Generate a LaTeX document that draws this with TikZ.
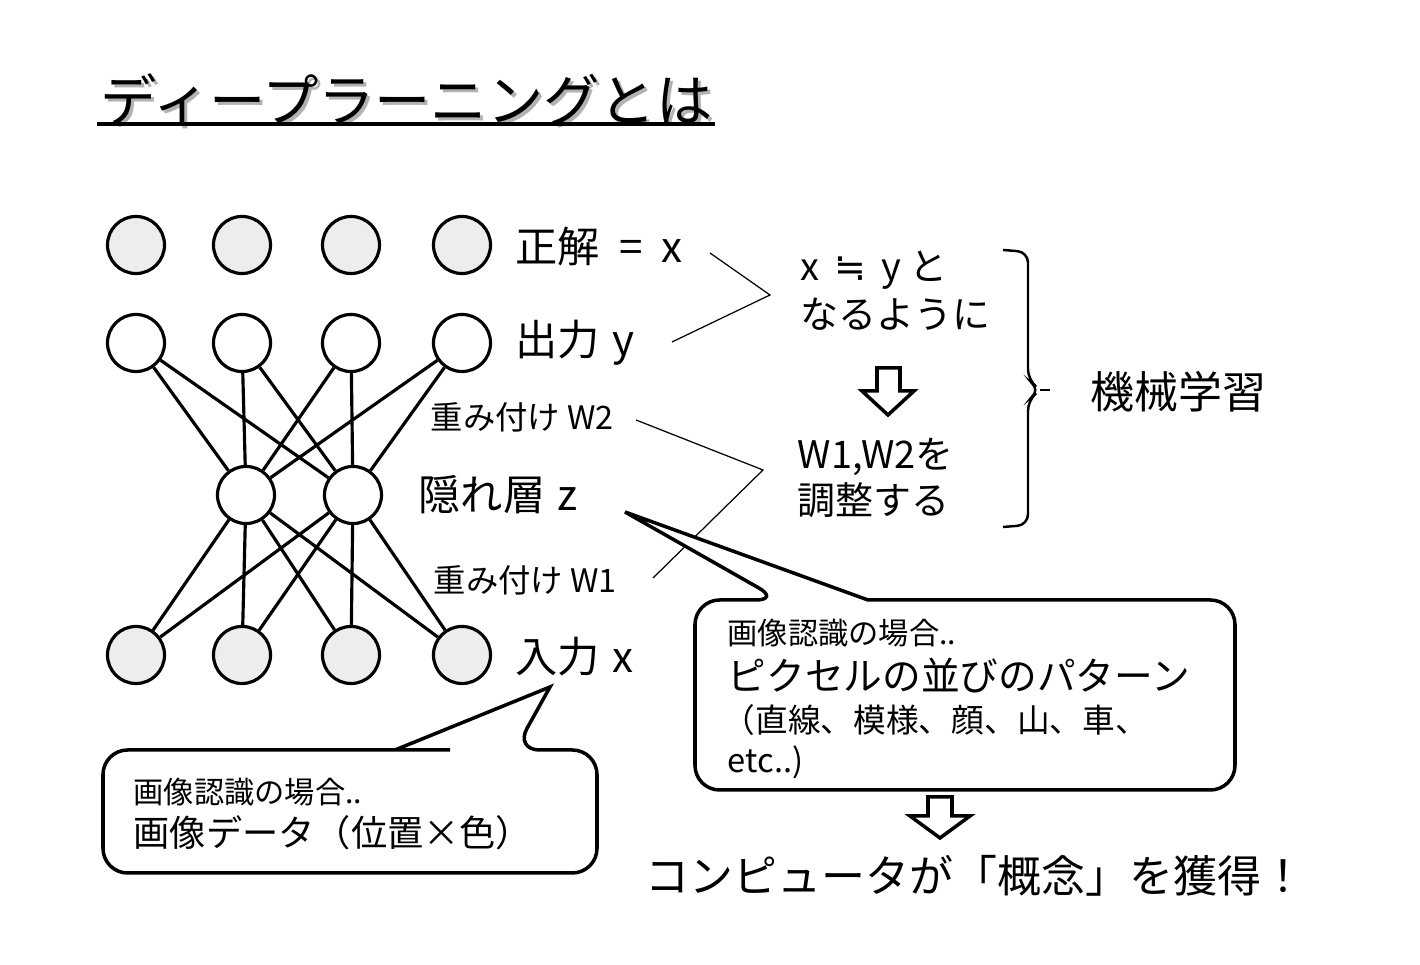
\documentclass[tikz,border=0pt]{standalone}
\usepackage{fontspec}
\setmainfont{Noto Sans CJK JP}
\newfontfamily\symfont{DejaVu Sans}

\begin{document}
\begin{tikzpicture}[x=0.01cm,y=-0.01cm,
	unit/.style={circle, draw, line width=0.9pt, minimum size=0.57cm, inner sep=0pt, fill=white},
	given/.style={unit, fill=black!7},
	link/.style={line width=0.9pt},
	guide/.style={line width=0.35pt},
	big/.style={anchor=west, inner sep=0pt, font=\fontsize{12}{14}\selectfont},
	small/.style={anchor=west, inner sep=0pt, font=\fontsize{9.2}{11}\selectfont},
	bubble/.style={draw, fill=white, line width=1pt, line join=miter},
	hollow/.style={draw, fill=white, line width=1pt, line join=miter}]

	\useasboundingbox (0,0) rectangle (1420,965);

	% Title
	\node[anchor=west, inner sep=0pt, text=black!30, font=\fontsize{16}{18}\selectfont] (titleshade) at (103,103) {ディープラーニングとは};
	\node[anchor=west, inner sep=0pt, font=\fontsize{16}{18}\selectfont] (title) at (100,100) {ディープラーニングとは};
	\draw[line width=1.2pt] (97,124) -- (715,124);

	% Network
	%Answer row
	\node[given] (t1) at (136,245) {};
	\node[given] (t2) at (242,245) {};
	\node[given] (t3) at (351,245) {};
	\node[given] (t4) at (462,245) {};
	%Output row
	\node[unit] (y1) at (136,343) {};
	\node[unit] (y2) at (242,343) {};
	\node[unit] (y3) at (351,343) {};
	\node[unit] (y4) at (462,343) {};
	%Hidden row
	\node[unit] (h1) at (246,495) {};
	\node[unit] (h2) at (353,495) {};
	%Input row
	\node[given] (x1) at (136,655) {};
	\node[given] (x2) at (242,655) {};
	\node[given] (x3) at (351,655) {};
	\node[given] (x4) at (462,655) {};

	% Weights
	\draw[link] (y1) -- (h1) (y1) -- (h2) (y2) -- (h1) (y2) -- (h2)
		(y3) -- (h1) (y3) -- (h2) (y4) -- (h1) (y4) -- (h2);
	\draw[link] (x1) -- (h1) (x1) -- (h2) (x2) -- (h1) (x2) -- (h2)
		(x3) -- (h1) (x3) -- (h2) (x4) -- (h1) (x4) -- (h2);

	% Layer labels
	\node[big] (ans) at (515,247) {正解\hspace{0.45em}=\hspace{0.45em}x};
	\node[big] (out) at (515,343) {出力\hspace{0.3em}y};
	\node[small] (wtwo) at (430,417) {重み付け W2};
	\node[big] (hid) at (418,495) {隠れ層\hspace{0.3em}z};
	\node[small] (wone) at (433,580) {重み付け W1};
	\node[big] (inp) at (515,657) {入力\hspace{0.3em}x};

	% Guide lines
	\coordinate (ansend) at (710,253);
	\coordinate (outend) at (672,342);
	\coordinate (meetaim) at (770,295);
	\coordinate (wtwoend) at (636,420);
	\coordinate (woneend) at (653,578);
	\coordinate (meettune) at (763,470);
	\draw[guide] (ansend) -- (meetaim) -- (outend);
	\draw[guide] (wtwoend) -- (meettune) -- (woneend);

	% Learning steps
	\node[anchor=west, inner sep=0pt, font=\fontsize{10.8}{13}\selectfont] (aim) at (800,270) {x \,{\symfont ≒}\, y と};
	\node[anchor=west, inner sep=0pt, font=\fontsize{10.8}{13}\selectfont] (aimb) at (800,314) {なるように};
	\draw[hollow] (877,368) -- (900,368) -- (900,391) -- (914,391) -- (888,415) -- (862,391) -- (877,391) -- cycle;
	\node[anchor=west, inner sep=0pt, font=\fontsize{10.8}{13}\selectfont] (tune) at (797,457) {W1,W2を};
	\node[anchor=west, inner sep=0pt, font=\fontsize{10.8}{13}\selectfont] (tuneb) at (797,500) {調整する};

	% Brace
	\draw[line width=0.7pt, rounded corners=3pt] (1003,250) -- (1028,252) -- (1028,380) -- (1040,390) -- (1028,400) -- (1028,525) -- (1003,527);
	\draw[line width=0.7pt] (1040,390) -- (1050,390);
	\node[anchor=west, inner sep=0pt, font=\fontsize{12.5}{15}\selectfont] (ml) at (1090,392) {機械学習};

	% Callout for hidden layer
	\draw[bubble] (900,600) [rounded corners=7pt] -- (1235,600) -- (1235,790) -- (695,790) -- (695,600) -- (780,600) [sharp corners] -- (625,512) -- (868,600) -- cycle;
	\node[anchor=west, inner sep=0pt, font=\fontsize{8.6}{10}\selectfont] (hcasea) at (727,633) {画像認識の場合..};
	\node[anchor=west, inner sep=0pt, font=\fontsize{11}{13}\selectfont] (hcaseb) at (727,676) {ピクセルの並びのパターン};
	\node[anchor=west, inner sep=0pt, font=\fontsize{9.3}{11}\selectfont] (hcasec) at (722,720) {（直線、模様、顔、山、車、};
	\node[anchor=west, inner sep=0pt, font=\fontsize{9.3}{11}\selectfont] (hcased) at (727,762) {etc..)};

	% Result
	\draw[hollow] (928,797) -- (952,797) -- (952,816) -- (970,816) -- (940,838) -- (910,816) -- (928,816) -- cycle;
	\node[anchor=west, inner sep=0pt, font=\fontsize{12.5}{15}\selectfont] (result) at (645,876) {コンピュータが「概念」を獲得！};

	% Callout for input
	\draw[bubble] (450,750) [rounded corners=7pt] -- (103,750) -- (103,873) -- (597,873) -- (597,750) -- (515,750) [sharp corners] -- (550,687) -- (395,750) -- cycle;
	\node[anchor=west, inner sep=0pt, font=\fontsize{8.6}{10}\selectfont] (icasea) at (133,792) {画像認識の場合..};
	\node[anchor=west, inner sep=0pt, font=\fontsize{10.3}{12}\selectfont] (icaseb) at (133,833) {画像データ（位置×色）};

\end{tikzpicture}
\end{document}
